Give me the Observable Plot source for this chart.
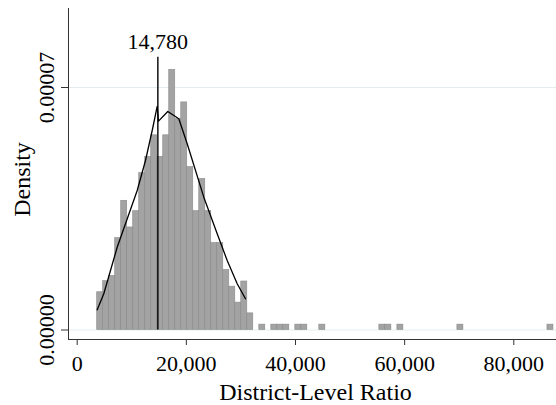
<!DOCTYPE html>
<html><head><meta charset="utf-8">
<script src="https://cdn.jsdelivr.net/npm/d3@7"></script>
<script src="https://cdn.jsdelivr.net/npm/@observablehq/plot@0.6"></script>
<style>body{margin:0;background:#fff}</style>
</head><body><div id="chart"></div>
<script>
// Histogram bins (lower edge of each bin, District-Level Ratio) and their density
const binStart = [3665, 4765, 5865, 6965, 8065, 9165, 10265, 11365, 12465, 13565,
  14665, 15765, 16865, 17965, 19065, 20165, 21265, 22365, 23465, 24565,
  25665, 26765, 27865, 28965, 30065, 31165,
  33365, 35565, 36665, 37765, 39965, 41065, 44365, 55365, 56465, 58665, 69665, 86165];
const binDensity = [1.09e-5, 1.41e-5, 1.56e-5, 2.65e-5, 3.73e-5, 2.96e-5, 3.43e-5, 4.53e-5, 5.00e-5, 5.62e-5,
  5.00e-5, 5.62e-5, 7.51e-5, 6.09e-5, 6.57e-5, 4.70e-5, 3.43e-5, 4.36e-5, 3.43e-5, 2.51e-5,
  2.51e-5, 1.73e-5, 1.25e-5, 0.79e-5, 1.40e-5, 0.48e-5,
  1.55e-6, 1.55e-6, 1.55e-6, 1.55e-6, 1.55e-6, 1.55e-6, 1.55e-6, 1.55e-6, 1.55e-6, 1.55e-6, 1.55e-6, 1.55e-6];
const binWidth = 1100;

// Kernel density curve
const curveX = [3665, 4874, 7329, 10994, 12515, 13743, 14659, 14897, 16601, 18617,
  20156, 23198, 25653, 27485, 29318, 30838];
const curveDensity = [0.583e-5, 1.045e-5, 2.390e-5, 4.027e-5, 4.893e-5, 5.759e-5, 6.452e-5, 6.028e-5, 6.308e-5, 6.097e-5,
  5.375e-5, 3.834e-5, 2.777e-5, 2.006e-5, 1.334e-5, 0.901e-5];

// Median marker
const medianValue = 14780;
const medianLabel = "14,780";
const medianLineTop = 7.875e-5;
const medianLabelY = 8.313e-5;

const xTicks = [0, 20000, 40000, 60000, 80000];
const yTicks = [0, 0.00007];
const xTitle = "District-Level Ratio";
const yTitle = "Density";

const bins = binStart.map((lo, i) => ({lo, hi: lo + binWidth, density: binDensity[i]}));
const curve = curveX.map((x, i) => ({x, y: curveDensity[i]}));

const chart = Plot.plot({
  width: 556, height: 405,
  marginTop: 8, marginLeft: 68, marginRight: 0, marginBottom: 66,
  style: {fontFamily: "Liberation Serif", fontSize: "22px", color: "#000", background: "#fff"},
  x: {domain: [-1594, 87824]},
  y: {domain: [-2.742e-6, 9.2805e-5]},
  marks: [
    Plot.ruleY(yTicks, {stroke: "#e3edf0", strokeWidth: 1}),
    Plot.rectY(bins, {x1: "lo", x2: "hi", y: "density", fill: "#a3a3a3", stroke: "#8a8a8a", strokeWidth: 0.6}),
    Plot.line(curve, {x: "x", y: "y", stroke: "#000", strokeWidth: 1.3}),
    Plot.ruleX([medianValue], {y1: 0, y2: medianLineTop, stroke: "#000", strokeWidth: 1.4}),
    Plot.text([medianLabel], {x: medianValue, y: medianLabelY, text: d => d, lineAnchor: "middle", fill: "#000"}),
    Plot.axisX({ticks: xTicks, tickFormat: d3.format(","), tickSize: 6, tickPadding: 9.5, label: null, stroke: "#333", fill: "#000"}),
    Plot.axisY({ticks: yTicks, tickFormat: d3.format(".5f"), tickSize: 7, tickPadding: 7.5, tickRotate: -90, label: null, stroke: "#333", fill: "#000"}),
    Plot.frame({anchor: "left", stroke: "#333"}),
    Plot.frame({anchor: "bottom", stroke: "#333"}),
    Plot.text([xTitle], {frameAnchor: "bottom", dx: 3, dy: 60, lineAnchor: "bottom", textAnchor: "middle", fontSize: 24, text: d => d, fill: "#000"}),
    Plot.text([yTitle], {frameAnchor: "left", dx: -39, dy: 5.5, rotate: -90, lineAnchor: "bottom", textAnchor: "middle", fontSize: 24, text: d => d, fill: "#000"})
  ]
});
document.getElementById("chart").appendChild(chart);
</script>
</body></html>
